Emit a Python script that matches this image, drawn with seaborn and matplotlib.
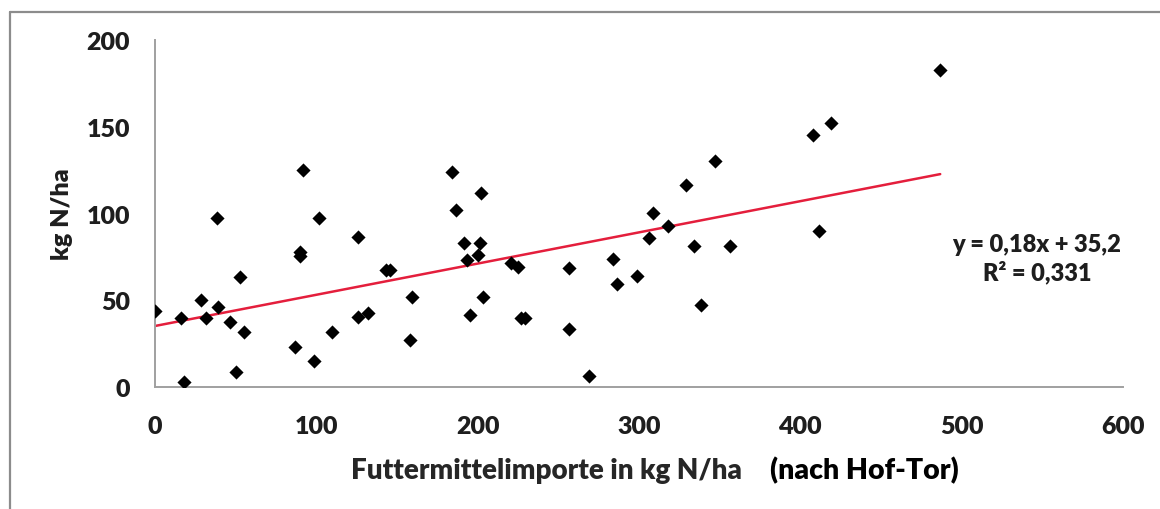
import numpy as np
import pandas as pd
import matplotlib
matplotlib.use("Agg")
import matplotlib.pyplot as plt
from matplotlib.lines import Line2D
import seaborn as sns

# ---- data ----
feed_import = [0.0, 15.9, 18.0, 28.3, 31.6, 39.1, 38.4, 46.5, 50.2, 52.7,
               55.4, 86.8, 89.9, 89.9, 91.9, 98.6, 101.7, 109.7, 125.7, 125.7,
               131.9, 143.0, 145.7, 159.3, 158.1, 183.9, 186.6, 202.1, 191.6, 201.5,
               193.6, 200.1, 203.2, 195.3, 220.7, 225.2, 226.9, 229.4, 256.9, 256.5,
               269.1, 283.8, 286.2, 298.8, 306.3, 308.7, 318.0, 329.2, 334.2, 338.5,
               347.2, 356.5, 407.9, 419.1, 411.7, 486.7]
n_value = [44.0, 40.0, 3.1, 50.4, 39.8, 46.2, 97.7, 37.5, 8.7, 63.6,
           31.9, 23.3, 78.1, 75.8, 125.2, 15.0, 97.7, 31.9, 86.4, 40.4,
           42.7, 67.5, 67.5, 51.9, 27.3, 123.9, 102.3, 111.9, 83.1, 83.1,
           73.5, 76.2, 51.9, 41.7, 71.6, 69.1, 40.0, 39.8, 68.7, 33.3,
           6.2, 73.7, 59.3, 64.1, 86.0, 100.4, 92.9, 116.6, 81.4, 47.3,
           130.4, 81.4, 145.4, 152.3, 90.0, 182.9]
trend_slope = 0.18
trend_intercept = 35.2
x_ticks = [0, 100, 200, 300, 400, 500, 600]
y_ticks = [0, 50, 100, 150, 200]
x_label = "Futtermittelimporte in kg N/ha"
x_label_extra = "(nach Hof-Tor)"
y_label = "kg N/ha"
eq_text = "y = 0,18x + 35,2\nR\u00b2 = 0,331"

df = pd.DataFrame({"x": feed_import, "y": n_value})
xmin, xmax = df["x"].min(), df["x"].max()
trend = pd.DataFrame({"x": [xmin, xmax]})
trend["y"] = trend_slope * trend["x"] + trend_intercept

sns.set_theme(style="white")
plt.rcParams["font.family"] = ["Lato", "DejaVu Sans"]
WEIGHT = "heavy"
plt.rcParams["font.weight"] = WEIGHT

W, H = 1160, 510
fig = plt.figure(figsize=(W / 100, H / 100), dpi=100)
fig.patch.set_facecolor("white")
ax = fig.add_axes([155 / W, (H - 388) / H, (1123 - 155) / W, (388 - 41.3) / H])

sns.scatterplot(data=df, x="x", y="y", marker="D", s=52, color="black",
                edgecolor="black", linewidth=0, ax=ax, zorder=3)
sns.lineplot(data=trend, x="x", y="y", color="#e41e3c", linewidth=1.8,
             ax=ax, zorder=2)

ax.set_xlim(0, 600)
ax.set_ylim(0, 200)
ax.set_xticks(x_ticks)
ax.set_yticks(y_ticks)
ax.set_xticklabels([str(t) for t in x_ticks], fontsize=18, fontweight=WEIGHT, color="#1e1e1e")
ax.set_yticklabels([str(t) for t in y_ticks], fontsize=18, fontweight=WEIGHT, color="#1e1e1e")
ax.tick_params(axis="both", direction="out", length=7, width=1.3, color="#a0a0a0")
ax.tick_params(axis="x", pad=13)
ax.tick_params(axis="y", pad=11)

for side in ["top", "right"]:
    ax.spines[side].set_visible(False)
for side in ["left", "bottom"]:
    ax.spines[side].set_color("#a0a0a0")
    ax.spines[side].set_linewidth(1.4)

ax.set_xlabel("")
ax.set_ylabel(y_label, fontsize=18, fontweight=WEIGHT, color="#1e1e1e")
ax.yaxis.set_label_coords(-(155 - 73) / (1123 - 155), 0.5)

fig.text(546 / W, 1 - 471 / H, x_label, ha="center", va="center",
         fontsize=20, fontweight=WEIGHT, color="#262626")
fig.text(864 / W, 1 - 471 / H, x_label_extra, ha="center", va="center",
         fontsize=20.5, fontweight=WEIGHT, color="black")
fig.text(1037 / W, 1 - 259 / H, eq_text, ha="center", va="center",
         fontsize=17, fontweight=WEIGHT, color="#1e1e1e", linespacing=1.25)

# chart border (as in the original Excel frame)
fig.add_artist(Line2D([10 / W, 10 / W], [0, 1 - 12.5 / H], transform=fig.transFigure,
                      color="#8c8c8c", linewidth=1.6))
fig.add_artist(Line2D([10 / W, 1], [1 - 12.5 / H, 1 - 12.5 / H], transform=fig.transFigure,
                      color="#8c8c8c", linewidth=1.6))

fig.savefig("out.png", dpi=100, facecolor="white")
